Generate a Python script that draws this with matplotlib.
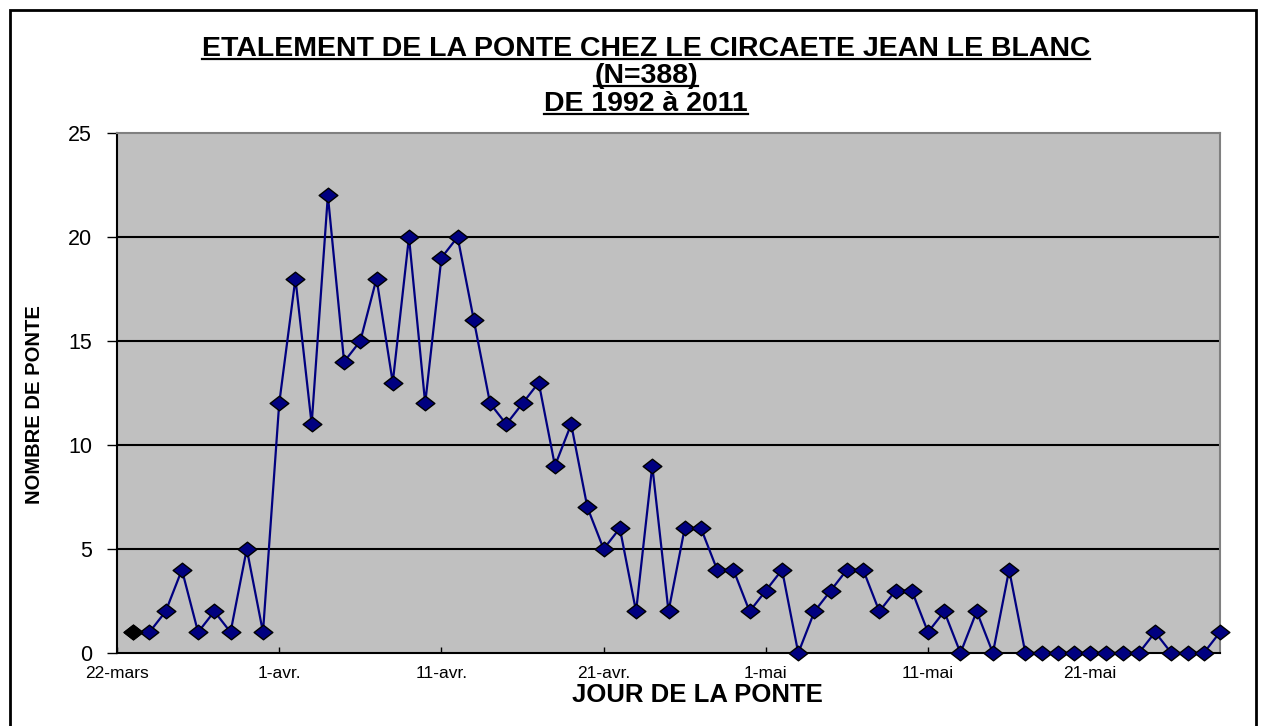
import numpy as np
import matplotlib
matplotlib.use('Agg')
import matplotlib.pyplot as plt
from matplotlib.lines import Line2D
from matplotlib.patches import Rectangle
from matplotlib.path import Path

# nombre de pontes par jour (23 mars -> 29 mai)
pontes = [1, 1, 2, 4, 1, 2, 1, 5, 1, 12,
          18, 11, 22, 14, 15, 18, 13, 20, 12, 19,
          20, 16, 12, 11, 12, 13, 9, 11, 7, 5,
          6, 2, 9, 2, 6, 6, 4, 4, 2, 3,
          4, 0, 2, 3, 4, 4, 2, 3, 3, 1,
          2, 0, 2, 0, 4, 0, 0, 0, 0, 0,
          0, 0, 0, 1, 0, 0, 0, 1]
tick_labels = ['22-mars', '1-avr.', '11-avr.', '21-avr.', '1-mai', '11-mai', '21-mai']
titre = ['ETALEMENT DE LA PONTE CHEZ LE CIRCAETE JEAN LE BLANC',
         '(N=388)',
         'DE 1992 à 2011']

plt.rcParams['font.family'] = ['Liberation Sans', 'DejaVu Sans']

W, H = 1266, 726
fig = plt.figure(figsize=(W / 100, H / 100), dpi=100)
fig.patch.set_facecolor('white')

# zone du graphique (en pixels de l'image)
ax = fig.add_axes([117 / W, 1 - 653 / H, (1220 - 117) / W, (653 - 133) / H])
ax.set_facecolor('#c0c0c0')

jours = np.arange(1, len(pontes) + 1)
losange = Path([(-1, 0), (0, 0.78), (1, 0), (0, -0.78), (-1, 0)],
               [Path.MOVETO, Path.LINETO, Path.LINETO, Path.LINETO, Path.CLOSEPOLY])

ax.plot(jours, pontes, color='#000080', lw=1.6, marker=losange, ms=13.5,
        mfc='#000080', mec='black', mew=1.0, clip_on=False, zorder=3)
# premier point en noir
ax.plot(jours[:1], pontes[:1], ls='none', marker=losange, ms=13.5,
        mfc='black', mec='black', mew=1.0, clip_on=False, zorder=4)

ax.set_xlim(0, len(pontes))
ax.set_ylim(0, 25)
ax.set_yticks(range(0, 26, 5))
ax.set_xticks(range(0, 61, 10))
ax.set_xticklabels(tick_labels)

ax.yaxis.grid(True, color='black', lw=1.5)
ax.set_axisbelow(True)
gl = ax.get_ygridlines()
gl[0].set_visible(False)
gl[-1].set_visible(False)

for s in ['left', 'bottom']:
    ax.spines[s].set_color('black')
    ax.spines[s].set_linewidth(1.5)
for s in ['top', 'right']:
    ax.spines[s].set_color('#808080')
    ax.spines[s].set_linewidth(1.5)

ax.tick_params(axis='y', direction='out', length=7, width=1, labelsize=15.5, pad=11)
ax.tick_params(axis='x', direction='in', length=4, width=1, labelsize=12.5, pad=9)

fig.text(35 / W, 1 - 405 / H, 'NOMBRE DE PONTE', rotation=90, fontsize=14.5,
         fontweight='bold', ha='center', va='center')
fig.text(697 / W, 1 - 695 / H, 'JOUR DE LA PONTE', fontsize=18.5,
         fontweight='bold', ha='center', va='center')

# cadre extérieur
fig.add_artist(Rectangle((10 / W, -0.05), (1256 - 10) / W, 1 - 10 / H + 0.05,
                         fill=False, ec='black', lw=2, transform=fig.transFigure))

# titre souligné
bases = [56, 83, 111]
txts = []
for ligne, b in zip(titre, bases):
    t = fig.text(646 / W, 1 - b / H, ligne, fontsize=20.5, fontweight='bold',
                 ha='center', va='baseline')
    txts.append((t, b))

fig.canvas.draw()
r = fig.canvas.get_renderer()
for t, b in txts:
    bb = t.get_window_extent(r)
    y = 1 - (b + 3) / H
    fig.add_artist(Line2D([bb.x0 / W, bb.x1 / W], [y, y], color='black', lw=1.6,
                          transform=fig.transFigure))

fig.savefig('out.png', dpi=100)
